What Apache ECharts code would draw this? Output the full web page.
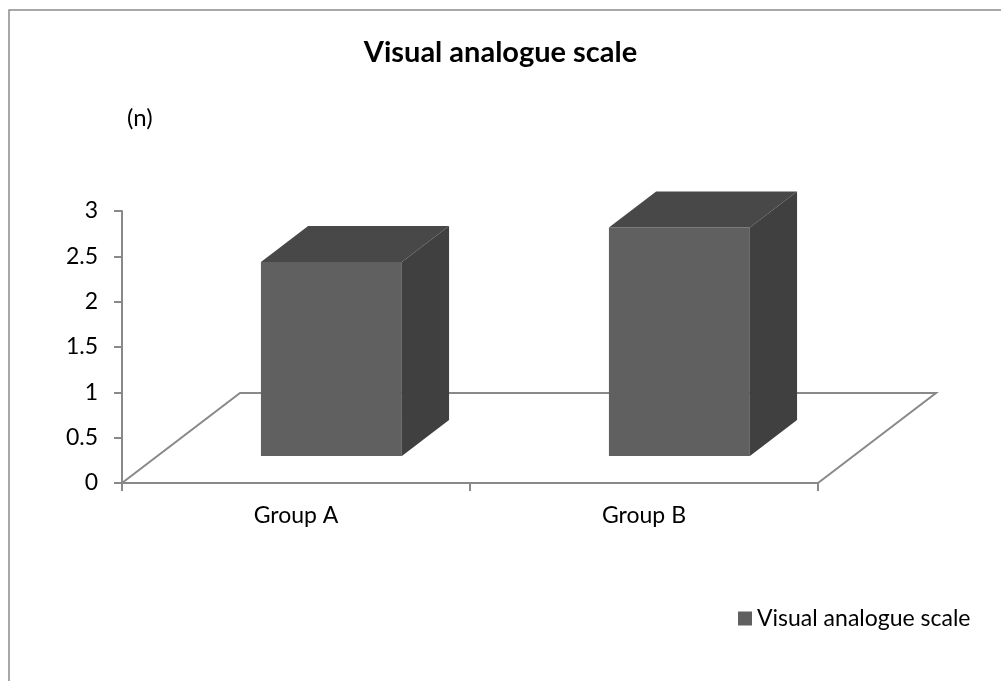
<!DOCTYPE html>
<html>
<head>
<meta charset="utf-8">
<script src="https://cdn.jsdelivr.net/npm/echarts@6/dist/echarts.min.js"></script>
<style>
  html, body { margin: 0; padding: 0; background: #ffffff; }
  #chart { width: 1001px; height: 681px; }
</style>
</head>
<body>
<div id="chart"></div>
<script>
// Chart data
const categories = ['Group A', 'Group B'];
const vasValues = [2.14, 2.52];
const seriesName = 'Visual analogue scale';
const yTicks = { min: 0, max: 3, interval: 0.5 };

// Oblique 3D projection: full floor depth in pixels and the slab each box occupies
const DEPTH_X = 118;
const DEPTH_Y = -90;
const BOX_FRONT = 0.3;
const BOX_DEPTH = 0.4;
const BOX_WIDTH = 0.405;

const FONT = 'Lato, "Open Sans", sans-serif';
const LINE = '#898989';

const chart = echarts.init(document.getElementById('chart'), null, { renderer: 'canvas' });

function renderFloor(params, api) {
  const cs = params.coordSys;
  const x0 = cs.x, x1 = cs.x + cs.width, yb = cs.y + cs.height;
  return {
    type: 'polyline',
    silent: true,
    shape: {
      points: [
        [x0, yb],
        [x0 + DEPTH_X, yb + DEPTH_Y],
        [x1 + DEPTH_X, yb + DEPTH_Y],
        [x1, yb]
      ]
    },
    style: { stroke: LINE, lineWidth: 2, fill: null }
  };
}

function renderBox(params, api) {
  const idx = api.value(0);
  const val = api.value(1);
  const base = api.coord([idx, 0]);
  const top = api.coord([idx, val]);
  const w = api.size([1, 0])[0] * BOX_WIDTH;
  const fx = base[0] - w / 2 + DEPTH_X * BOX_FRONT;
  const yB = base[1] + DEPTH_Y * BOX_FRONT;
  const yT = top[1] + DEPTH_Y * BOX_FRONT;
  const bx = DEPTH_X * BOX_DEPTH;
  const by = DEPTH_Y * BOX_DEPTH;
  return {
    type: 'group',
    children: [
      {
        type: 'polygon',
        shape: { points: [[fx, yB], [fx + w, yB], [fx + w, yT], [fx, yT]] },
        style: { fill: '#606060' }
      },
      {
        type: 'polygon',
        shape: { points: [[fx, yT], [fx + w, yT], [fx + w + bx, yT + by], [fx + bx, yT + by]] },
        style: { fill: '#484848' }
      },
      {
        type: 'polygon',
        shape: { points: [[fx + w, yB], [fx + w + bx, yB + by], [fx + w + bx, yT + by], [fx + w, yT]] },
        style: { fill: '#404040' }
      }
    ]
  };
}

const option = {
  backgroundColor: '#ffffff',
  animation: false,
  title: {
    text: 'Visual analogue scale',
    left: 'center',
    top: 33,
    textStyle: { fontFamily: FONT, fontSize: 29, fontWeight: 'bold', color: '#000' }
  },
  legend: {
    data: [seriesName],
    left: 733,
    top: 602,
    icon: 'rect',
    itemWidth: 14,
    itemHeight: 14,
    itemGap: 10,
    textStyle: { fontFamily: FONT, fontSize: 23, color: '#000' }
  },
  graphic: [
    {
      type: 'rect',
      silent: true,
      shape: { x: 9, y: 10, width: 1200, height: 1000 },
      style: { fill: null, stroke: '#8c8c8c', lineWidth: 1.5 }
    }
  ],
  grid: { left: 122, right: 183, top: 211, bottom: 198 },
  xAxis: {
    type: 'category',
    data: categories,
    boundaryGap: true,
    axisLine: { lineStyle: { color: LINE, width: 2 } },
    axisTick: { show: true, length: 8, lineStyle: { color: LINE, width: 2 } },
    axisLabel: { fontFamily: FONT, fontSize: 23, color: '#000', margin: 21 },
    splitLine: { show: false }
  },
  yAxis: {
    type: 'value',
    min: yTicks.min,
    max: yTicks.max,
    interval: yTicks.interval,
    name: '(n)',
    nameLocation: 'end',
    nameGap: 93,
    nameTextStyle: { fontFamily: FONT, fontSize: 24, color: '#000', align: 'left', verticalAlign: 'middle', padding: [0, 0, 0, 5] },
    axisLine: { show: true, lineStyle: { color: LINE, width: 2 } },
    axisTick: { show: true, length: 8, lineStyle: { color: LINE, width: 2 } },
    axisLabel: { fontFamily: FONT, fontSize: 23, color: '#000', margin: 24 },
    splitLine: { show: false }
  },
  series: [
    {
      type: 'custom',
      silent: true,
      z: 1,
      renderItem: renderFloor,
      data: [[0, 0]],
      encode: { x: 0, y: 1 }
    },
    {
      name: seriesName,
      type: 'custom',
      z: 2,
      itemStyle: { color: '#606060' },
      renderItem: renderBox,
      data: categories.map((c, i) => [i, vasValues[i]]),
      encode: { x: 0, y: 1 }
    }
  ]
};

chart.setOption(option);
</script>
</body>
</html>
